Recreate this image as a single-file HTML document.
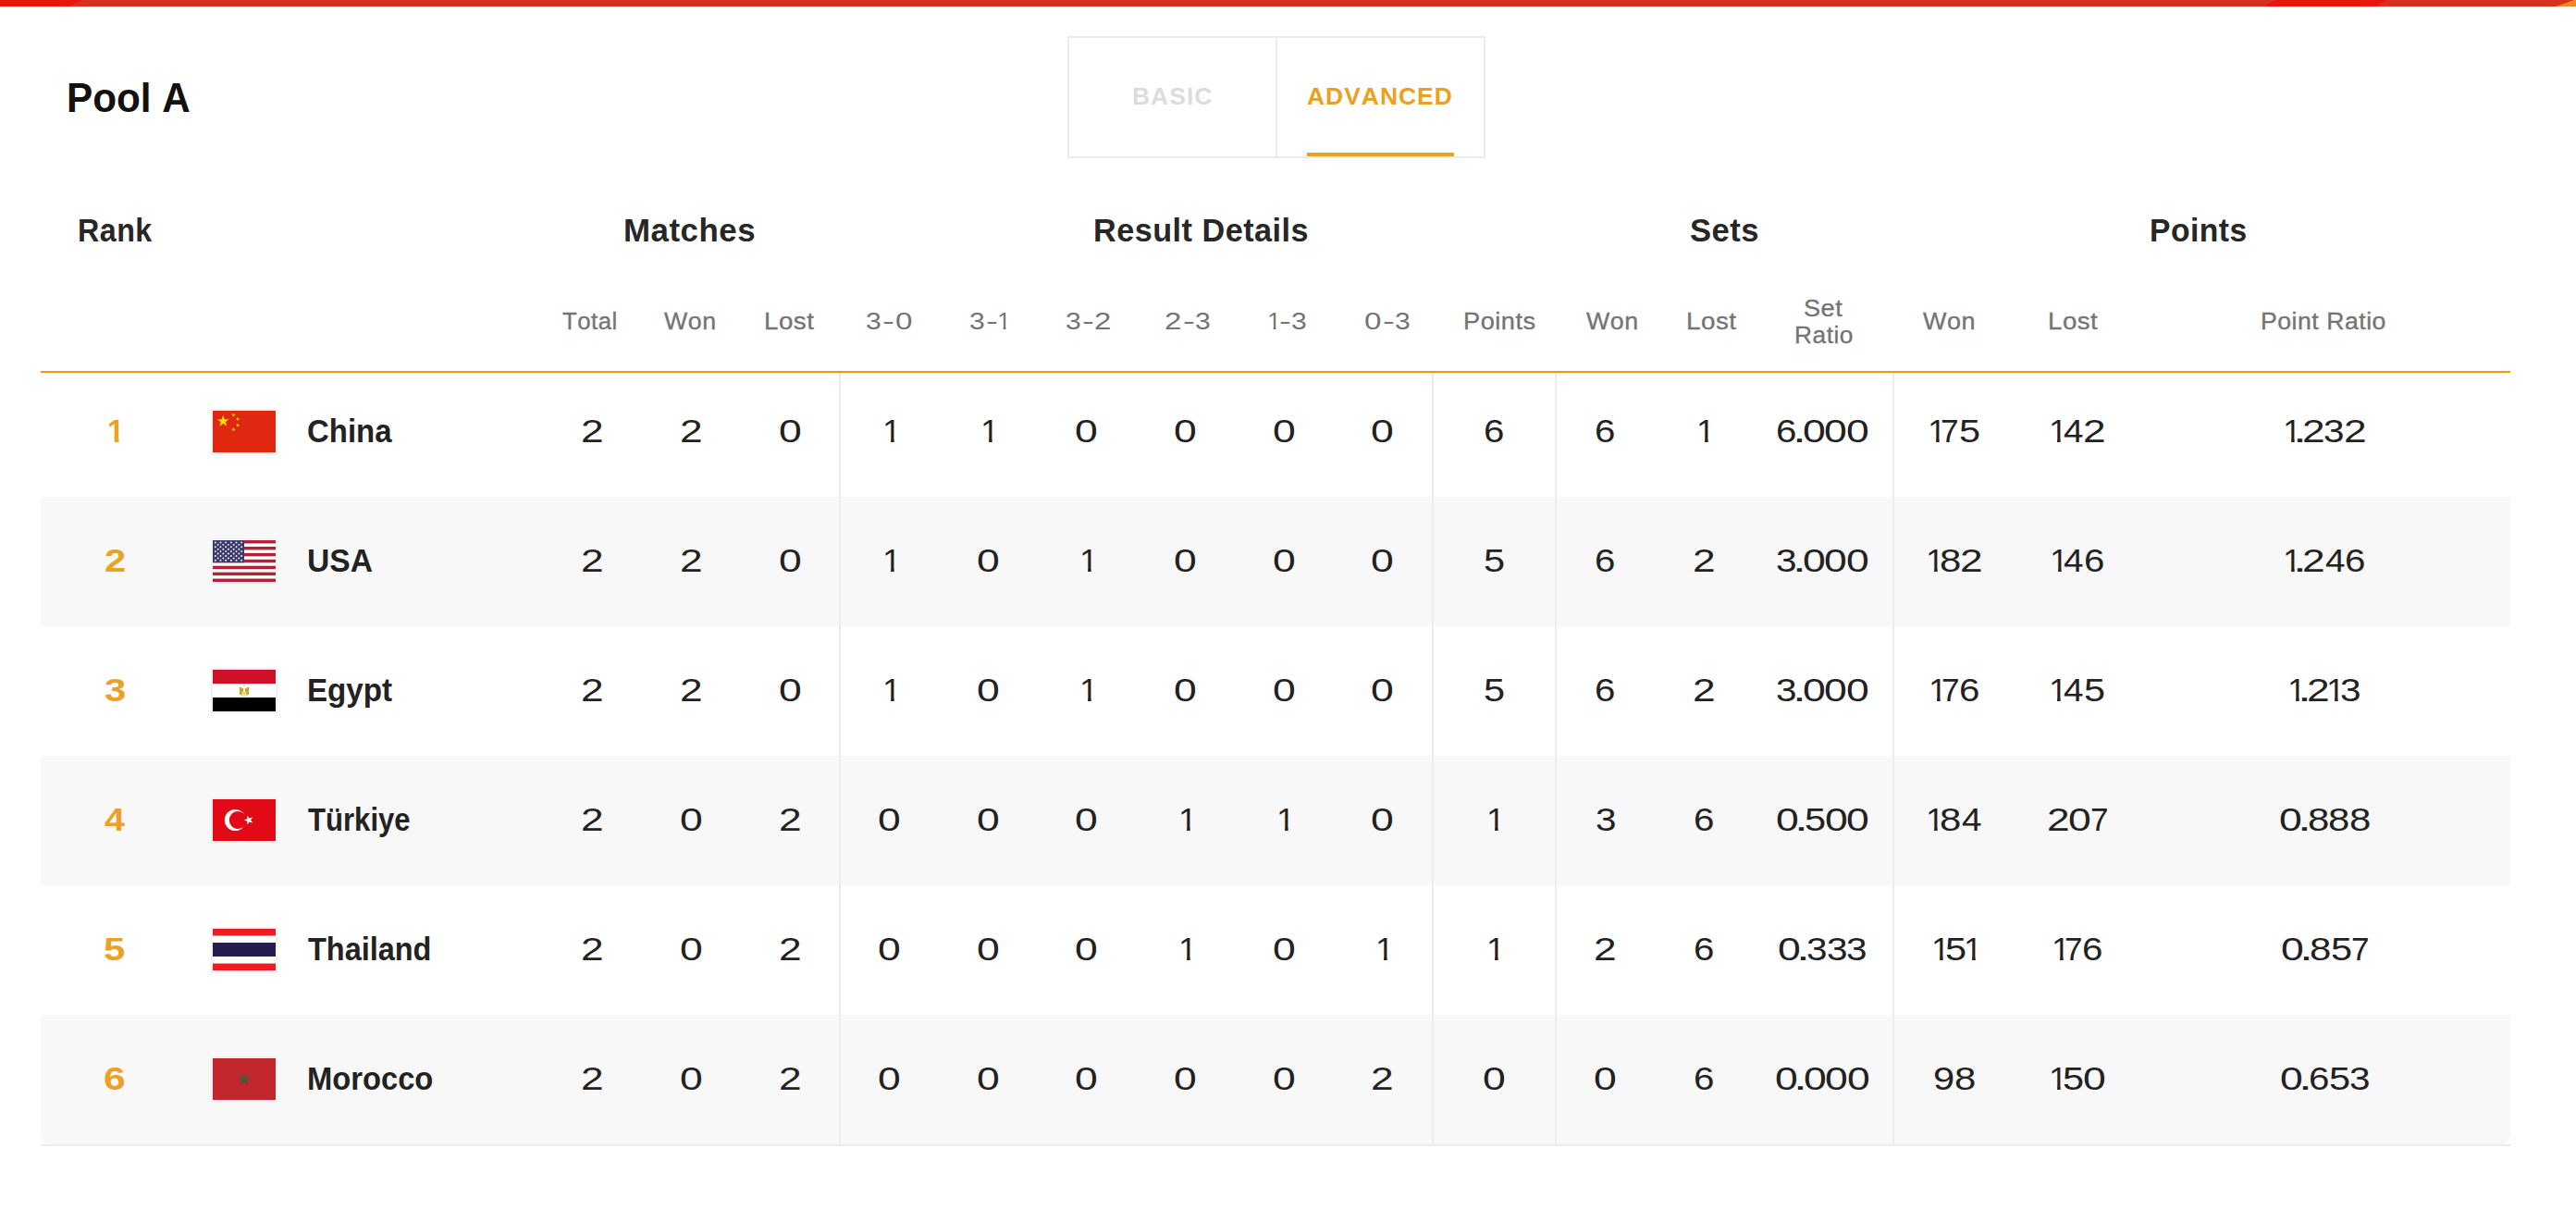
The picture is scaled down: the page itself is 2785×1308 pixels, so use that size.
<!DOCTYPE html>
<html lang="en"><head><meta charset="utf-8"><title>Pool A</title>
<style>
html,body{margin:0;padding:0;background:#fff}
body{width:2785px;height:1308px;position:relative;overflow:hidden;font-family:"Liberation Sans",sans-serif;font-kerning:none;color:#222}
.t{position:absolute;white-space:nowrap;line-height:1;transform-origin:0 0;font-weight:400}
.b{font-weight:700}
.n{position:absolute;white-space:nowrap;line-height:1;font-size:35.60px;color:#222;height:35.60px}
.n i,.hn i{display:inline-block;font-style:normal;transform-origin:0 0;line-height:1}
.hn{position:absolute;white-space:nowrap;line-height:1;font-size:26.31px;color:#747474}
.sh{-webkit-text-stroke:0.35px #747474}
.rk{font-weight:700;font-size:35.18px;color:#eaa124}
.d1{clip-path:polygon(1.92px 0,12.20px 0,12.20px 31px,8.80px 31px,8.80px 26px,1.92px 26px)}
.e1{clip-path:polygon(1.03px 0,9.04px 0,9.04px 24px,6.47px 24px,6.47px 20px,1.03px 20px)}
.r1{clip-path:polygon(0.90px 0,13.14px 0,13.14px 32px,8.06px 32px,8.06px 26px,0.90px 26px)}
.d0{transform:scaleX(1.2516);margin:0 4.39px 0 -0.59px}
.d1{transform:scaleX(1.0376);margin:0 -4.75px 0 -2.65px}
.d2{transform:scaleX(1.2455);margin:0 4.03px 0 -0.83px}
.d3{transform:scaleX(1.1375);margin:0 2.24px 0 -0.34px}
.d4{transform:scaleX(1.0870);margin:0 2.09px 0 0.61px}
.d5{transform:scaleX(1.1672);margin:0 2.76px 0 -0.26px}
.d6{transform:scaleX(1.1323);margin:0 2.05px 0 -0.45px}
.d7{transform:scaleX(0.9887);margin:0 -0.19px 0 -0.80px}
.d8{transform:scaleX(1.1793);margin:0 3.33px 0 -0.52px}
.d9{transform:scaleX(1.1737);margin:0 3.46px 0 -0.66px}
.dp{transform:scaleX(1.5046);margin:0 1.25px 0 -3.89px}
.dh{transform:scaleX(1.4497);margin:0 6.74px 0 2.31px}
.e0{transform:scaleX(1.2618);margin:0 3.39px 0 -0.44px}
.e1{transform:scaleX(1.0460);margin:0 -3.42px 0 -1.98px}
.e2{transform:scaleX(1.2556);margin:0 3.12px 0 -0.62px}
.e3{transform:scaleX(1.1468);margin:0 1.79px 0 -0.26px}
.e4{transform:scaleX(1.0958);margin:0 1.68px 0 0.46px}
.e5{transform:scaleX(1.1766);margin:0 2.18px 0 -0.20px}
.e6{transform:scaleX(1.1415);margin:0 1.64px 0 -0.33px}
.e7{transform:scaleX(0.9967);margin:0 -0.03px 0 -0.60px}
.e8{transform:scaleX(1.1889);margin:0 2.60px 0 -0.39px}
.e9{transform:scaleX(1.1832);margin:0 2.70px 0 -0.49px}
.ep{transform:scaleX(1.5168);margin:0 0.99px 0 -2.90px}
.eh{transform:scaleX(1.4615);margin:0 5.09px 0 1.72px}
.r1{transform:scaleX(0.9500);margin:0 -6.18px 0 -1.28px}
.r2{transform:scaleX(1.1869);margin:0 2.98px 0 -0.45px}
.r3{transform:scaleX(1.1896);margin:0 3.20px 0 0.04px}
.r4{transform:scaleX(1.1199);margin:0 3.13px 0 0.40px}
.r5{transform:scaleX(1.1885);margin:0 3.52px 0 -0.29px}
.r6{transform:scaleX(1.2056);margin:0 3.49px 0 -0.55px}
.bar{position:absolute;left:0;top:0;width:2785px;height:7px;background:#d4321c}
.pool,.thead,.tbody{position:absolute;left:0;top:0;width:2785px}
.tr{position:absolute;left:44px;width:2670px;height:140px}
.tr.alt{background:#f8f8f8}
.tr.last{border-radius:0 0 10px 10px}
h2,p{margin:0}
.vl{position:absolute;top:403px;width:2px;height:834px;background:#ececec}
.flag{position:absolute;left:184px;width:68px;height:45px;border:1px solid #ededed;padding:1px;background:#f3fbfb}
.flag svg{display:block;width:68px;height:45px}
</style></head><body>
<div class="bar"><svg width="2785" height="7" viewBox="0 0 2785 7" style="display:block"><rect width="2785" height="7" fill="#d4321c"/><polygon points="0,0 89,0 75,7 0,7" fill="#e8170e"/><polygon points="2460,0 2581,0 2568,7 2448,7" fill="#e8170e"/><polygon points="2783,0 2785,0 2785,7 2763,7" fill="#ee8a1d"/></svg></div>
<section class="pool">
<h2 class="t b" style="left:71.97px;top:84px;font-size:44.91px;transform:scaleX(0.9411);color:#111;">Pool A</h2>
<nav class="tabs" style="position:absolute;left:1154px;top:39px;width:448px;height:128px;border:2px solid #ececec">
<div style="position:absolute;left:223px;top:0;width:2px;height:128px;background:#ececec"></div>
<div class="t b" style="left:67.53px;top:51px;font-size:25.73px;transform:scaleX(1.0279);letter-spacing:1.0px;color:#dcdcdc;">BASIC</div>
<div class="t b" style="left:257.24px;top:51px;font-size:25.73px;transform:scaleX(1.0266);letter-spacing:1.0px;color:#eba020;">ADVANCED</div>
<div style="position:absolute;left:257px;top:124px;width:159px;height:4px;background:#eba020"></div>
</nav>
<div class="thead">
<div class="t b" style="left:83.64px;top:232px;font-size:34.74px;transform:scaleX(0.9280);letter-spacing:0.5px;color:#272727;">Rank</div>
<div class="t b" style="left:673.87px;top:232px;font-size:34.74px;transform:scaleX(1.0039);letter-spacing:0.5px;color:#272727;">Matches</div>
<div class="t b" style="left:1181.81px;top:232px;font-size:34.74px;transform:scaleX(0.9846);letter-spacing:0.5px;color:#272727;">Result Details</div>
<div class="t b" style="left:1826.90px;top:232px;font-size:34.74px;transform:scaleX(0.9965);letter-spacing:0.5px;color:#272727;">Sets</div>
<div class="t b" style="left:2323.95px;top:232px;font-size:34.74px;transform:scaleX(0.9685);letter-spacing:0.5px;color:#272727;">Points</div>
<div class="t sh" style="left:607.62px;top:334px;font-size:26.16px;transform:scaleX(0.9857);letter-spacing:0.5px;color:#747474;">Total</div>
<div class="t sh" style="left:717.78px;top:334px;font-size:26.16px;transform:scaleX(1.0230);letter-spacing:0.5px;color:#747474;">Won</div>
<div class="t sh" style="left:825.63px;top:334px;font-size:26.16px;transform:scaleX(1.0573);letter-spacing:0.5px;color:#747474;">Lost</div>
<div class="hn" style="left:936.52px;top:334px"><i class="e3">3</i><i class="eh">-</i><i class="e0">0</i></div>
<div class="hn" style="left:1048.50px;top:334px"><i class="e3">3</i><i class="eh">-</i><i class="e1">1</i></div>
<div class="hn" style="left:1152.34px;top:334px"><i class="e3">3</i><i class="eh">-</i><i class="e2">2</i></div>
<div class="hn" style="left:1259.93px;top:334px"><i class="e2">2</i><i class="eh">-</i><i class="e3">3</i></div>
<div class="hn" style="left:1371.66px;top:334px"><i class="e1">1</i><i class="eh">-</i><i class="e3">3</i></div>
<div class="hn" style="left:1475.60px;top:334px"><i class="e0">0</i><i class="eh">-</i><i class="e3">3</i></div>
<div class="t sh" style="left:1582.27px;top:334px;font-size:26.16px;transform:scaleX(1.0385);letter-spacing:0.5px;color:#747474;">Points</div>
<div class="t sh" style="left:1715.28px;top:334px;font-size:26.16px;transform:scaleX(1.0230);letter-spacing:0.5px;color:#747474;">Won</div>
<div class="t sh" style="left:1823.32px;top:334px;font-size:26.16px;transform:scaleX(1.0614);letter-spacing:0.5px;color:#747474;">Lost</div>
<div class="t sh" style="left:1950.47px;top:320px;font-size:26.16px;transform:scaleX(1.0362);letter-spacing:0.5px;color:#747474;">Set</div>
<div class="t sh" style="left:1940.24px;top:349px;font-size:26.16px;transform:scaleX(1.0061);letter-spacing:0.5px;color:#747474;">Ratio</div>
<div class="t sh" style="left:2079.18px;top:334px;font-size:26.16px;transform:scaleX(1.0305);letter-spacing:0.5px;color:#747474;">Won</div>
<div class="t sh" style="left:2214.24px;top:334px;font-size:26.16px;transform:scaleX(1.0552);letter-spacing:0.5px;color:#747474;">Lost</div>
<div class="t sh" style="left:2443.71px;top:334px;font-size:26.16px;transform:scaleX(1.0182);letter-spacing:0.5px;color:#747474;">Point Ratio</div>
</div>
<div class="tbody">
<div class="tr" style="top:397px">
<div class="n rk" style="left:72.95px;top:51px"><i class="r1">1</i></div>
<div class="flag" style="top:45px"><svg viewBox="0 0 68 45" preserveAspectRatio="none"><rect width="68" height="45" fill="#de2910"/><polygon points="11.25,4.50 12.77,9.16 17.67,9.16 13.70,12.05 15.22,16.71 11.25,13.83 7.28,16.71 8.80,12.05 4.83,9.16 9.73,9.16" fill="#ffde00"/><polygon points="20.57,5.66 21.64,4.42 20.80,3.02 22.31,3.66 23.38,2.43 23.24,4.06 24.74,4.70 23.15,5.06 23.00,6.69 22.16,5.29" fill="#ffde00"/><polygon points="24.77,9.32 26.24,8.60 26.01,6.98 27.15,8.15 28.61,7.43 27.85,8.88 28.99,10.05 27.38,9.77 26.61,11.22 26.38,9.60" fill="#ffde00"/><polygon points="24.84,15.13 26.47,15.07 26.92,13.50 27.48,15.04 29.11,14.98 27.83,15.99 28.39,17.52 27.03,16.61 25.74,17.62 26.19,16.04" fill="#ffde00"/><polygon points="20.74,18.84 22.27,19.42 23.29,18.14 23.22,19.78 24.75,20.35 23.17,20.79 23.10,22.42 22.20,21.05 20.62,21.49 21.64,20.21" fill="#ffde00"/></svg></div>
<div class="t b" style="left:288.45px;top:51px;font-size:35.18px;transform:scaleX(0.9369);color:#222;">China</div>
<div class="n " style="left:585.00px;top:52px;"><i class="d2">2</i></div>
<div class="n " style="left:692.10px;top:52px;"><i class="d2">2</i></div>
<div class="n " style="left:798.20px;top:52px;"><i class="d0">0</i></div>
<div class="n " style="left:912.40px;top:52px;"><i class="d1">1</i></div>
<div class="n " style="left:1018.90px;top:52px;"><i class="d1">1</i></div>
<div class="n " style="left:1119.00px;top:52px;"><i class="d0">0</i></div>
<div class="n " style="left:1225.80px;top:52px;"><i class="d0">0</i></div>
<div class="n " style="left:1332.50px;top:52px;"><i class="d0">0</i></div>
<div class="n " style="left:1439.00px;top:52px;"><i class="d0">0</i></div>
<div class="n " style="left:1560.20px;top:52px;"><i class="d6">6</i></div>
<div class="n " style="left:1680.80px;top:52px;"><i class="d6">6</i></div>
<div class="n " style="left:1792.60px;top:52px;"><i class="d1">1</i></div>
<div class="n " style="left:1876.45px;top:52px;"><i class="d6">6</i><i class="dp">.</i><i class="d0">0</i><i class="d0">0</i><i class="d0">0</i></div>
<div class="n " style="left:2042.80px;top:52px;"><i class="d1">1</i><i class="d7">7</i><i class="d5">5</i></div>
<div class="n " style="left:2173.70px;top:52px;"><i class="d1">1</i><i class="d4">4</i><i class="d2">2</i></div>
<div class="n " style="left:2426.17px;top:52px;"><i class="d1">1</i><i class="dp">.</i><i class="d2">2</i><i class="d3">3</i><i class="d2">2</i></div>
</div>
<div class="tr alt" style="top:537px">
<div class="n rk" style="left:69.05px;top:51px"><i class="r2">2</i></div>
<div class="flag" style="top:45px"><svg viewBox="0 0 68 45" preserveAspectRatio="none"><rect width="68" height="45" fill="#fff"/><rect y="0.000" width="68" height="3.462" fill="#b22234"/><rect y="6.923" width="68" height="3.462" fill="#b22234"/><rect y="13.846" width="68" height="3.462" fill="#b22234"/><rect y="20.769" width="68" height="3.462" fill="#b22234"/><rect y="27.692" width="68" height="3.462" fill="#b22234"/><rect y="34.615" width="68" height="3.462" fill="#b22234"/><rect y="41.538" width="68" height="3.462" fill="#b22234"/><rect width="34.0" height="24.231" fill="#3c3b6e"/><g fill="#fff"><circle cx="2.83" cy="2.42" r="0.95"/><circle cx="8.50" cy="2.42" r="0.95"/><circle cx="14.17" cy="2.42" r="0.95"/><circle cx="19.83" cy="2.42" r="0.95"/><circle cx="25.50" cy="2.42" r="0.95"/><circle cx="31.17" cy="2.42" r="0.95"/><circle cx="5.67" cy="4.85" r="0.95"/><circle cx="11.33" cy="4.85" r="0.95"/><circle cx="17.00" cy="4.85" r="0.95"/><circle cx="22.67" cy="4.85" r="0.95"/><circle cx="28.33" cy="4.85" r="0.95"/><circle cx="2.83" cy="7.27" r="0.95"/><circle cx="8.50" cy="7.27" r="0.95"/><circle cx="14.17" cy="7.27" r="0.95"/><circle cx="19.83" cy="7.27" r="0.95"/><circle cx="25.50" cy="7.27" r="0.95"/><circle cx="31.17" cy="7.27" r="0.95"/><circle cx="5.67" cy="9.69" r="0.95"/><circle cx="11.33" cy="9.69" r="0.95"/><circle cx="17.00" cy="9.69" r="0.95"/><circle cx="22.67" cy="9.69" r="0.95"/><circle cx="28.33" cy="9.69" r="0.95"/><circle cx="2.83" cy="12.12" r="0.95"/><circle cx="8.50" cy="12.12" r="0.95"/><circle cx="14.17" cy="12.12" r="0.95"/><circle cx="19.83" cy="12.12" r="0.95"/><circle cx="25.50" cy="12.12" r="0.95"/><circle cx="31.17" cy="12.12" r="0.95"/><circle cx="5.67" cy="14.54" r="0.95"/><circle cx="11.33" cy="14.54" r="0.95"/><circle cx="17.00" cy="14.54" r="0.95"/><circle cx="22.67" cy="14.54" r="0.95"/><circle cx="28.33" cy="14.54" r="0.95"/><circle cx="2.83" cy="16.96" r="0.95"/><circle cx="8.50" cy="16.96" r="0.95"/><circle cx="14.17" cy="16.96" r="0.95"/><circle cx="19.83" cy="16.96" r="0.95"/><circle cx="25.50" cy="16.96" r="0.95"/><circle cx="31.17" cy="16.96" r="0.95"/><circle cx="5.67" cy="19.38" r="0.95"/><circle cx="11.33" cy="19.38" r="0.95"/><circle cx="17.00" cy="19.38" r="0.95"/><circle cx="22.67" cy="19.38" r="0.95"/><circle cx="28.33" cy="19.38" r="0.95"/><circle cx="2.83" cy="21.81" r="0.95"/><circle cx="8.50" cy="21.81" r="0.95"/><circle cx="14.17" cy="21.81" r="0.95"/><circle cx="19.83" cy="21.81" r="0.95"/><circle cx="25.50" cy="21.81" r="0.95"/><circle cx="31.17" cy="21.81" r="0.95"/></g></svg></div>
<div class="t b" style="left:287.78px;top:51px;font-size:35.18px;transform:scaleX(0.9561);color:#222;">USA</div>
<div class="n " style="left:585.00px;top:52px;"><i class="d2">2</i></div>
<div class="n " style="left:692.10px;top:52px;"><i class="d2">2</i></div>
<div class="n " style="left:798.20px;top:52px;"><i class="d0">0</i></div>
<div class="n " style="left:912.40px;top:52px;"><i class="d1">1</i></div>
<div class="n " style="left:1012.50px;top:52px;"><i class="d0">0</i></div>
<div class="n " style="left:1125.40px;top:52px;"><i class="d1">1</i></div>
<div class="n " style="left:1225.80px;top:52px;"><i class="d0">0</i></div>
<div class="n " style="left:1332.50px;top:52px;"><i class="d0">0</i></div>
<div class="n " style="left:1439.00px;top:52px;"><i class="d0">0</i></div>
<div class="n " style="left:1559.85px;top:52px;"><i class="d5">5</i></div>
<div class="n " style="left:1680.80px;top:52px;"><i class="d6">6</i></div>
<div class="n " style="left:1786.50px;top:52px;"><i class="d2">2</i></div>
<div class="n " style="left:1876.50px;top:52px;"><i class="d3">3</i><i class="dp">.</i><i class="d0">0</i><i class="d0">0</i><i class="d0">0</i></div>
<div class="n " style="left:2040.65px;top:52px;"><i class="d1">1</i><i class="d8">8</i><i class="d2">2</i></div>
<div class="n " style="left:2174.40px;top:52px;"><i class="d1">1</i><i class="d4">4</i><i class="d6">6</i></div>
<div class="n " style="left:2426.47px;top:52px;"><i class="d1">1</i><i class="dp">.</i><i class="d2">2</i><i class="d4">4</i><i class="d6">6</i></div>
</div>
<div class="tr" style="top:677px">
<div class="n rk" style="left:68.70px;top:51px"><i class="r3">3</i></div>
<div class="flag" style="top:45px"><svg viewBox="0 0 68 45" preserveAspectRatio="none"><rect width="68" height="15" fill="#ce1126"/><rect y="15" width="68" height="15" fill="#fff"/><rect y="30" width="68" height="15" fill="#000"/><path d="M28.9 18.5 C30.6 18.9 32.3 19.8 33 20.8 C33.2 22.6 32.9 24.4 32.2 25.6 L31.7 26.9 C30.8 27.2 29.7 27.1 29 26.7 C29.4 24 29.4 21 28.9 18.5Z" fill="#d3b033"/><path d="M39.1 18.5 C37.4 18.9 35.7 19.8 35 20.8 C34.8 22.6 35.1 24.4 35.8 25.6 L36.3 26.9 C37.2 27.2 38.3 27.1 39 26.7 C38.6 24 38.6 21 39.1 18.5Z" fill="#d3b033"/><path d="M29 18.7 C29.9 21.2 29.9 24.2 29.3 26.6" stroke="#bf9a12" stroke-width=".9" fill="none"/><path d="M39 18.7 C38.1 21.2 38.1 24.2 38.7 26.6" stroke="#bf9a12" stroke-width=".9" fill="none"/><ellipse cx="32.3" cy="21.9" rx=".75" ry="1.7" fill="#c3970c"/><ellipse cx="35.7" cy="21.9" rx=".75" ry="1.7" fill="#c3970c"/><path d="M33.7 15.2 L34.3 15.2 L34.5 18.6 L33.5 18.6Z" fill="#e9d58d"/><ellipse cx="34" cy="25.6" rx=".95" ry="1.15" fill="#cf9f1c"/><path d="M30 27.4 C32.5 26.9 35.5 26.9 38 27.4 L37.3 29.3 C35.2 28.9 32.8 28.9 30.7 29.3Z" fill="#f0e1a6"/></svg></div>
<div class="t b" style="left:287.58px;top:51px;font-size:35.18px;transform:scaleX(0.9428);color:#222;">Egypt</div>
<div class="n " style="left:585.00px;top:52px;"><i class="d2">2</i></div>
<div class="n " style="left:692.10px;top:52px;"><i class="d2">2</i></div>
<div class="n " style="left:798.20px;top:52px;"><i class="d0">0</i></div>
<div class="n " style="left:912.40px;top:52px;"><i class="d1">1</i></div>
<div class="n " style="left:1012.50px;top:52px;"><i class="d0">0</i></div>
<div class="n " style="left:1125.40px;top:52px;"><i class="d1">1</i></div>
<div class="n " style="left:1225.80px;top:52px;"><i class="d0">0</i></div>
<div class="n " style="left:1332.50px;top:52px;"><i class="d0">0</i></div>
<div class="n " style="left:1439.00px;top:52px;"><i class="d0">0</i></div>
<div class="n " style="left:1559.85px;top:52px;"><i class="d5">5</i></div>
<div class="n " style="left:1680.80px;top:52px;"><i class="d6">6</i></div>
<div class="n " style="left:1786.50px;top:52px;"><i class="d2">2</i></div>
<div class="n " style="left:1876.50px;top:52px;"><i class="d3">3</i><i class="dp">.</i><i class="d0">0</i><i class="d0">0</i><i class="d0">0</i></div>
<div class="n " style="left:2043.25px;top:52px;"><i class="d1">1</i><i class="d7">7</i><i class="d6">6</i></div>
<div class="n " style="left:2173.95px;top:52px;"><i class="d1">1</i><i class="d4">4</i><i class="d5">5</i></div>
<div class="n " style="left:2431.42px;top:52px;"><i class="d1">1</i><i class="dp">.</i><i class="d2">2</i><i class="d1">1</i><i class="d3">3</i></div>
</div>
<div class="tr alt" style="top:817px">
<div class="n rk" style="left:68.55px;top:51px"><i class="r4">4</i></div>
<div class="flag" style="top:45px"><svg viewBox="0 0 68 45" preserveAspectRatio="none"><rect width="68" height="45" fill="#e30a17"/><circle cx="24.3" cy="22.5" r="11.5" fill="#fff"/><circle cx="27.3" cy="22.5" r="9.5" fill="#e30a17"/><polygon points="33.70,22.50 37.36,21.31 37.36,17.46 39.63,20.57 43.29,19.38 41.02,22.50 43.29,25.62 39.63,24.43 37.36,27.54 37.36,23.69" fill="#fff"/></svg></div>
<div class="t b" style="left:289.45px;top:51px;font-size:35.18px;transform:scaleX(0.8840);color:#222;">Türkiye</div>
<div class="n " style="left:585.00px;top:52px;"><i class="d2">2</i></div>
<div class="n " style="left:691.80px;top:52px;"><i class="d0">0</i></div>
<div class="n " style="left:798.50px;top:52px;"><i class="d2">2</i></div>
<div class="n " style="left:906.00px;top:52px;"><i class="d0">0</i></div>
<div class="n " style="left:1012.50px;top:52px;"><i class="d0">0</i></div>
<div class="n " style="left:1119.00px;top:52px;"><i class="d0">0</i></div>
<div class="n " style="left:1232.20px;top:52px;"><i class="d1">1</i></div>
<div class="n " style="left:1338.90px;top:52px;"><i class="d1">1</i></div>
<div class="n " style="left:1439.00px;top:52px;"><i class="d0">0</i></div>
<div class="n " style="left:1565.70px;top:52px;"><i class="d1">1</i></div>
<div class="n " style="left:1680.90px;top:52px;"><i class="d3">3</i></div>
<div class="n " style="left:1787.10px;top:52px;"><i class="d6">6</i></div>
<div class="n " style="left:1876.22px;top:52px;"><i class="d0">0</i><i class="dp">.</i><i class="d5">5</i><i class="d0">0</i><i class="d0">0</i></div>
<div class="n " style="left:2040.95px;top:52px;"><i class="d1">1</i><i class="d8">8</i><i class="d4">4</i></div>
<div class="n " style="left:2169.90px;top:52px;"><i class="d2">2</i><i class="d0">0</i><i class="d7">7</i></div>
<div class="n " style="left:2420.50px;top:52px;"><i class="d0">0</i><i class="dp">.</i><i class="d8">8</i><i class="d8">8</i><i class="d8">8</i></div>
</div>
<div class="tr" style="top:957px">
<div class="n rk" style="left:68.70px;top:51px"><i class="r5">5</i></div>
<div class="flag" style="top:45px"><svg viewBox="0 0 68 45" preserveAspectRatio="none"><rect width="68" height="45" fill="#ed1c24"/><rect y="7.5" width="68" height="30" fill="#fff"/><rect y="15" width="68" height="15" fill="#241d4f"/></svg></div>
<div class="t b" style="left:289.44px;top:51px;font-size:35.18px;transform:scaleX(0.9225);color:#222;">Thailand</div>
<div class="n " style="left:585.00px;top:52px;"><i class="d2">2</i></div>
<div class="n " style="left:691.80px;top:52px;"><i class="d0">0</i></div>
<div class="n " style="left:798.50px;top:52px;"><i class="d2">2</i></div>
<div class="n " style="left:906.00px;top:52px;"><i class="d0">0</i></div>
<div class="n " style="left:1012.50px;top:52px;"><i class="d0">0</i></div>
<div class="n " style="left:1119.00px;top:52px;"><i class="d0">0</i></div>
<div class="n " style="left:1232.20px;top:52px;"><i class="d1">1</i></div>
<div class="n " style="left:1332.50px;top:52px;"><i class="d0">0</i></div>
<div class="n " style="left:1445.40px;top:52px;"><i class="d1">1</i></div>
<div class="n " style="left:1565.70px;top:52px;"><i class="d1">1</i></div>
<div class="n " style="left:1680.20px;top:52px;"><i class="d2">2</i></div>
<div class="n " style="left:1787.10px;top:52px;"><i class="d6">6</i></div>
<div class="n " style="left:1878.50px;top:52px;"><i class="d0">0</i><i class="dp">.</i><i class="d3">3</i><i class="d3">3</i><i class="d3">3</i></div>
<div class="n " style="left:2046.65px;top:52px;"><i class="d1">1</i><i class="d5">5</i><i class="d1">1</i></div>
<div class="n " style="left:2176.25px;top:52px;"><i class="d1">1</i><i class="d7">7</i><i class="d6">6</i></div>
<div class="n " style="left:2422.65px;top:52px;"><i class="d0">0</i><i class="dp">.</i><i class="d8">8</i><i class="d5">5</i><i class="d7">7</i></div>
</div>
<div class="tr alt last" style="top:1097px">
<div class="n rk" style="left:68.85px;top:51px"><i class="r6">6</i></div>
<div class="flag" style="top:45px"><svg viewBox="0 0 68 45" preserveAspectRatio="none"><rect width="68" height="45" fill="#c1272d"/><polygon points="34.00,15.60 35.44,20.72 40.75,20.51 36.33,23.46 38.17,28.44 34.00,25.15 29.83,28.44 31.67,23.46 27.25,20.51 32.56,20.72" fill="#1d6d37"/><circle cx="34" cy="22.9" r="1.3" fill="#c1272d"/></svg></div>
<div class="t b" style="left:287.61px;top:51px;font-size:35.18px;transform:scaleX(0.9304);color:#222;">Morocco</div>
<div class="n " style="left:585.00px;top:52px;"><i class="d2">2</i></div>
<div class="n " style="left:691.80px;top:52px;"><i class="d0">0</i></div>
<div class="n " style="left:798.50px;top:52px;"><i class="d2">2</i></div>
<div class="n " style="left:906.00px;top:52px;"><i class="d0">0</i></div>
<div class="n " style="left:1012.50px;top:52px;"><i class="d0">0</i></div>
<div class="n " style="left:1119.00px;top:52px;"><i class="d0">0</i></div>
<div class="n " style="left:1225.80px;top:52px;"><i class="d0">0</i></div>
<div class="n " style="left:1332.50px;top:52px;"><i class="d0">0</i></div>
<div class="n " style="left:1439.30px;top:52px;"><i class="d2">2</i></div>
<div class="n " style="left:1559.30px;top:52px;"><i class="d0">0</i></div>
<div class="n " style="left:1679.90px;top:52px;"><i class="d0">0</i></div>
<div class="n " style="left:1787.10px;top:52px;"><i class="d6">6</i></div>
<div class="n " style="left:1875.58px;top:52px;"><i class="d0">0</i><i class="dp">.</i><i class="d0">0</i><i class="d0">0</i><i class="d0">0</i></div>
<div class="n " style="left:2046.95px;top:52px;"><i class="d9">9</i><i class="d8">8</i></div>
<div class="n " style="left:2173.38px;top:52px;"><i class="d1">1</i><i class="d5">5</i><i class="d0">0</i></div>
<div class="n " style="left:2421.55px;top:52px;"><i class="d0">0</i><i class="dp">.</i><i class="d6">6</i><i class="d5">5</i><i class="d3">3</i></div>
</div>
<div style="position:absolute;left:44px;top:401px;width:2670px;height:2px;background:#ea9a0c"></div>
<div style="position:absolute;left:44px;top:1237px;width:2670px;height:2px;background:#ececec"></div>
<div class="vl" style="left:907px"></div>
<div class="vl" style="left:1548px"></div>
<div class="vl" style="left:1681px"></div>
<div class="vl" style="left:2046px"></div>
</div>
</section>
</body></html>
